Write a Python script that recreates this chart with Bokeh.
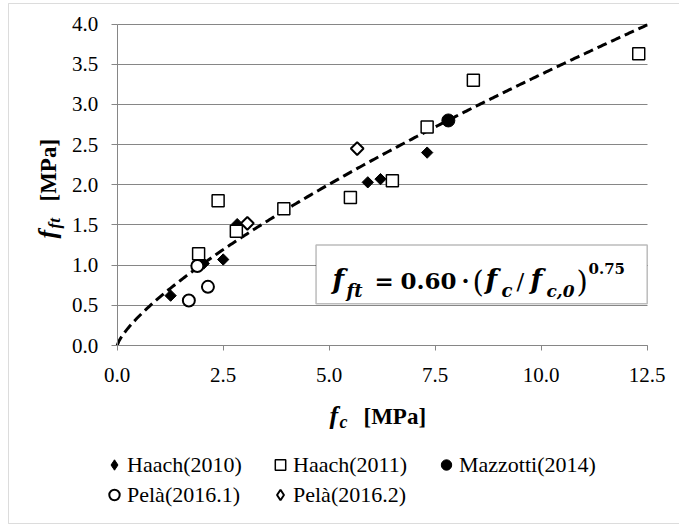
import numpy as np
from bokeh.plotting import figure
from bokeh.models import Range1d, FixedTicker, Label, BoxAnnotation, Legend, LegendItem, NumeralTickFormatter
from bokeh.embed import file_html
from bokeh.resources import INLINE

# ---- data ----
haach2010_fc = [1.26, 2.04, 2.50, 2.83, 5.91, 6.21, 7.31]
haach2010_ft = [0.62, 1.02, 1.07, 1.51, 2.03, 2.07, 2.40]

haach2011_fc = [1.92, 2.38, 2.81, 3.93, 5.50, 6.49, 7.31, 8.40, 12.30]
haach2011_ft = [1.14, 1.80, 1.42, 1.70, 1.84, 2.05, 2.72, 3.30, 3.63]

mazzotti_fc = [7.81]
mazzotti_ft = [2.80]

pela1_fc = [1.69, 1.89, 2.14]
pela1_ft = [0.56, 0.99, 0.73]

pela2_fc = [3.07, 5.66]
pela2_ft = [1.52, 2.45]

series_names = ["Haach(2010)", "Haach(2011)", "Mazzotti(2014)", "Pelà(2016.1)", "Pelà(2016.2)"]

fit_coef = 0.60
fit_exp = 0.75
fc0 = 1.0

x_ticks = [0.0, 2.5, 5.0, 7.5, 10.0, 12.5]
y_ticks = [0.0, 0.5, 1.0, 1.5, 2.0, 2.5, 3.0, 3.5, 4.0]
x_lim = (0.0, 12.5)
y_lim = (0.0, 4.0)

GRAY = "#868686"
SERIF = "Liberation Serif"
MATH = "DejaVu Serif"

W, H = 679, 526
# pixel geometry of the data area inside the canvas
X0, X1 = 116.7, 646.7
Y0, Y1 = 345.0, 23.5
sx = (X1 - X0) / (x_lim[1] - x_lim[0])
sy = (Y0 - Y1) / (y_lim[1] - y_lim[0])

p = figure(width=W, height=H, title=None,
           x_range=Range1d(x_lim[0] - X0 / sx, x_lim[0] + (W - X0) / sx),
           y_range=Range1d(y_lim[0] - (H - Y0) / sy, y_lim[0] + Y0 / sy),
           output_backend="svg", toolbar_location=None,
           min_border=0, min_border_left=0, min_border_right=0,
           min_border_top=0, min_border_bottom=0)
p.outline_line_color = None
p.background_fill_color = "white"
p.border_fill_color = "white"

p.xaxis.fixed_location = 0.0
p.yaxis.fixed_location = 0.0
p.xaxis.bounds = x_lim
p.yaxis.bounds = y_lim

p.xgrid.visible = False
p.ygrid.grid_line_color = GRAY
p.ygrid.grid_line_width = 1
p.ygrid.bounds = y_lim
p.ygrid.cross_bounds = x_lim

p.xaxis.ticker = FixedTicker(ticks=x_ticks)
p.yaxis.ticker = FixedTicker(ticks=y_ticks)
for ax in (p.xaxis, p.yaxis):
    ax.formatter = NumeralTickFormatter(format="0.0")
    ax.axis_line_color = GRAY
    ax.major_tick_line_color = GRAY
    ax.minor_tick_line_color = None
    ax.major_tick_in = 0
    ax.major_label_text_font = SERIF
    ax.major_label_text_font_size = "21px"
    ax.major_label_text_color = "black"
p.yaxis.major_tick_out = 6
p.yaxis.major_label_standoff = 13
p.xaxis.major_tick_out = 5
p.xaxis.major_label_standoff = 17

# outer chart border
p.add_layout(BoxAnnotation(left=8, right=W + 20, bottom=3, top=H - 3,
                           left_units="screen", right_units="screen",
                           bottom_units="screen", top_units="screen",
                           fill_alpha=0, line_color="#8c8c8c", line_width=1))

# fitted curve
xc = np.linspace(x_lim[0], x_lim[1], 300)
yc = fit_coef * (xc / fc0) ** fit_exp
p.line(xc, yc, line_color="black", line_width=3, line_dash="10 5")

r1 = p.scatter(haach2010_fc, haach2010_ft, marker="square", angle=np.pi / 4, size=8,
               fill_color="black", line_color="black")
r2 = p.scatter(haach2011_fc, haach2011_ft, marker="square", size=12,
               fill_color="white", line_color="black", line_width=1.5)
r3 = p.scatter(mazzotti_fc, mazzotti_ft, marker="circle", size=13,
               fill_color="black", line_color="black")
r4 = p.scatter(pela1_fc, pela1_ft, marker="circle", size=12,
               fill_color="white", line_color="black", line_width=2)
r5 = p.scatter(pela2_fc, pela2_ft, marker="square", angle=np.pi / 4, size=9,
               fill_color="white", line_color="black", line_width=2)

# legend swatches for the diamond series (the legend ignores marker angle);
# they hold no drawable point, only the style used by the legend
l1 = p.scatter(x=[np.nan], y=[np.nan], marker="diamond", fill_color="black", line_color="black")
l5 = p.scatter(x=[np.nan], y=[np.nan], marker="diamond", fill_color="white",
               line_color="black", line_width=2)

legend = Legend(items=[
    LegendItem(label=series_names[0], renderers=[l1]),
    LegendItem(label=series_names[1], renderers=[r2]),
    LegendItem(label=series_names[2], renderers=[r3]),
    LegendItem(label=series_names[3], renderers=[r4]),
    LegendItem(label=series_names[4], renderers=[l5]),
], ncols=3, orientation="horizontal", location=(101, 18),
    glyph_width=26, glyph_height=27, label_standoff=0, label_width=137, label_height=27,
    spacing=3, padding=0, margin=0, border_line_color=None, background_fill_alpha=0,
    label_text_font=SERIF, label_text_font_size="22px", label_text_color="black")
p.add_layout(legend, "center")

# formula box
p.add_layout(BoxAnnotation(left=4.69, right=12.5, bottom=0.52, top=1.25,
                           fill_color="white", fill_alpha=1.0,
                           line_color="#222222", line_width=1.5))


def txt(s, x, y, size, font=SERIF, style="bold", angle=0.0, align="left"):
    # x, y: canvas pixels (from top-left) of the text baseline start
    d = 0.23 * size  # compensate the descent that Bokeh places below the anchor
    if angle:
        x = x - d
    else:
        y = y - d
    p.add_layout(Label(x=x, y=H - y, x_units="screen", y_units="screen", text=s,
                       text_font=font, text_font_size=f"{size}px", text_font_style=style,
                       text_color="black", text_align=align, text_baseline="alphabetic",
                       angle=angle))


# formula pieces
txt("f", 332, 285.5, 27, MATH, "bold italic")
txt("ft", 346, 294, 18, MATH, "bold italic")
txt("=", 374, 285.5, 23, MATH, "bold")
txt("0.60", 400, 285.5, 23, MATH, "bold")
txt("·", 465, 285.5, 23, MATH, "bold", align="center")
txt("(", 472, 288, 29, MATH, "normal")
txt("f", 485, 285.5, 27, MATH, "bold italic")
txt("c", 501, 294, 18, MATH, "bold italic")
txt("/", 516, 285.5, 23, MATH, "normal")
txt("f", 530, 285.5, 27, MATH, "bold italic")
txt("c,0", 546, 294, 17, MATH, "bold italic")
txt(")", 576, 288, 29, MATH, "normal")
txt("0.75", 588, 271, 15, MATH, "bold")

# x axis title
txt("f", 329, 421, 26, SERIF, "bold italic")
txt("c", 339, 426, 18, SERIF, "bold italic")
txt("[MPa]", 363, 421, 23, SERIF, "bold")

# y axis title (rotated)
txt("f", 53, 238, 26, SERIF, "bold italic", angle=np.pi / 2)
txt("ft", 58, 228, 17, SERIF, "bold italic", angle=np.pi / 2)
txt("[MPa]", 53, 201, 23, SERIF, "bold", angle=np.pi / 2)

open("out.html", "w").write(file_html(p, INLINE))
